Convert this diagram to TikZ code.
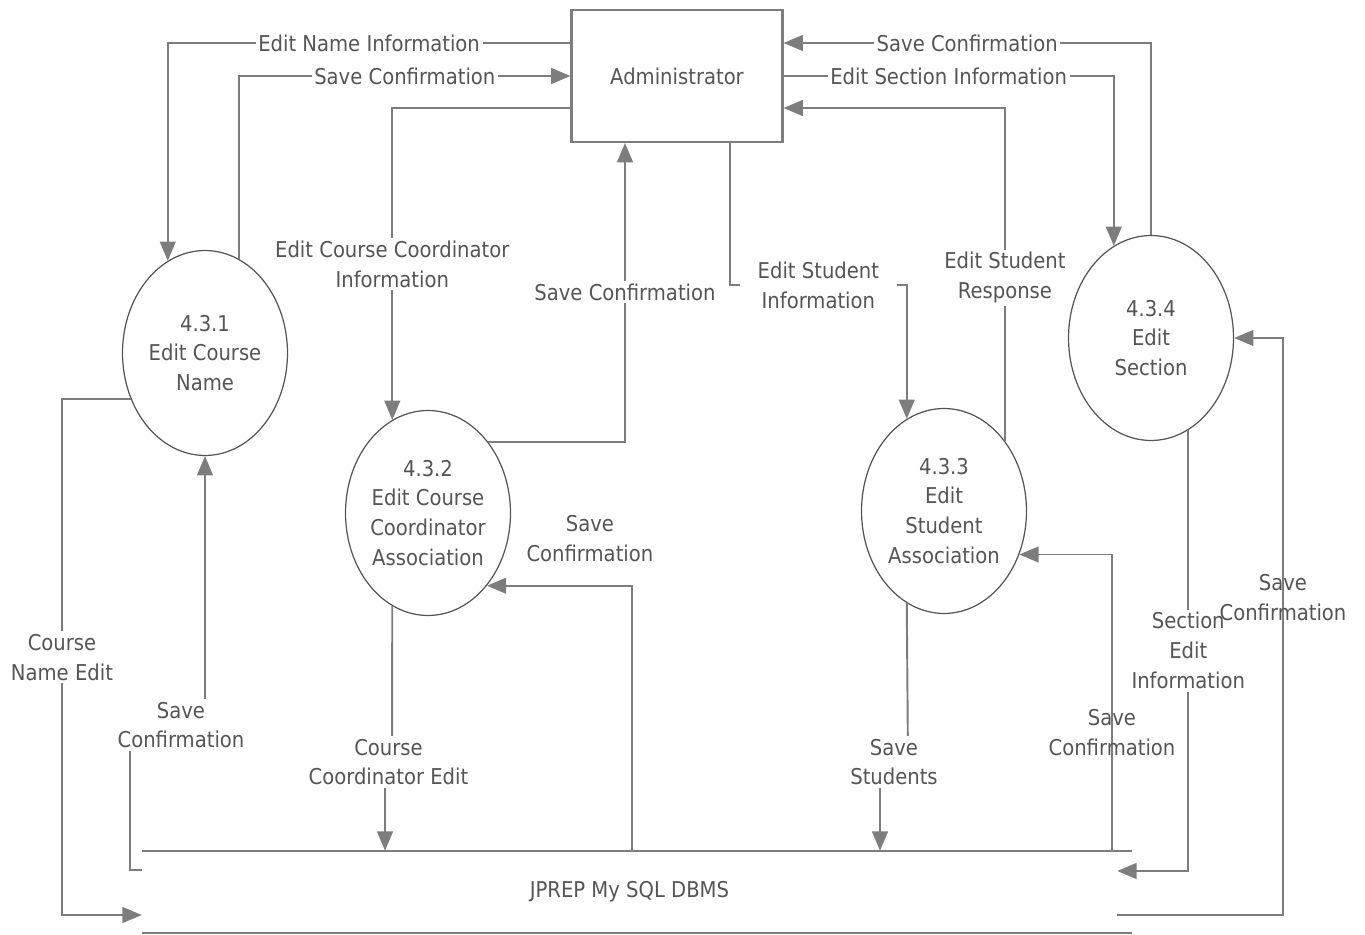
\documentclass[tikz,border=0pt]{standalone}
\usepackage{fontspec}
\setmainfont{DejaVu Sans Condensed}
\usetikzlibrary{shapes.geometric, arrows.meta}

\definecolor{inkgray}{RGB}{85,85,85}
\definecolor{linegray}{RGB}{125,125,125}

\begin{document}
\begin{tikzpicture}[x=0.02cm, y=-0.02cm,
  every node/.style={text=inkgray, font=\fontsize{12.4}{17}\selectfont},
  proc/.style={ellipse, draw=inkgray, line width=0.7pt, minimum width=3.3cm, minimum height=4.1cm, inner sep=0pt},
  ptext/.style={align=center},
  flow/.style={draw=linegray, line width=1.1pt, -{Triangle[length=11pt,width=9pt]}},
  lbl/.style={fill=white, align=center, inner sep=1.5pt},
  lbln/.style={align=center, inner sep=1pt}]
\useasboundingbox (0,0) rectangle (1365,935);

\node[draw=linegray, line width=1.2pt, minimum width=4.22cm, minimum height=2.64cm] (adm) at (677,76) {Administrator};

\node[proc] (p1) at (205,353) {};
\node[ptext] (t1) at (p1) {4.3.1\\Edit Course\\Name};
\node[proc] (p2) at (428,513) {};
\node[ptext] (t2) at (p2) {4.3.2\\Edit Course\\Coordinator\\Association};
\node[proc] (p3) at (944,511) {};
\node[ptext] (t3) at (p3) {4.3.3\\Edit\\Student\\Association};
\node[proc] (p4) at (1151,338) {};
\node[ptext] (t4) at (p4) {4.3.4\\Edit\\Section};

\node[minimum width=19.5cm, minimum height=1.64cm, inner sep=0pt] (db) at (629.5,892) {JPREP My SQL DBMS};
\draw[linegray, line width=1.1pt] (db.north west) -- ++(990,0);
\draw[linegray, line width=1.1pt] (db.south west) -- ++(990,0);

% administrator <-> processes
\draw[flow] (adm.west |- 0,43) -| node[lbl,pos=0.25] {Edit Name Information} (p1.112);
\draw[flow] (p1.70) |- node[lbl,pos=0.75] {Save Confirmation} (adm.west);
\draw[flow] (adm.west |- 0,108) -| node[lbl,pos=0.75] {Edit Course Coordinator\\Information} (p2.111);
\draw[flow] (p2.50) -| node[lbl,pos=0.75] {Save Confirmation} (adm.south -| 625,0);
\draw[flow] (adm.south -| 730,0) -- (730,285) -| node[lbl,pos=0.25,inner xsep=10pt] {Edit Student\\Information} (p3.112);
\draw[flow] (p3.49) |- node[lbl,pos=0.245] {Edit Student\\Response} (adm.east |- 0,108);
\draw[flow] (p4.north) |- node[lbl,pos=0.75] {Save Confirmation} (adm.east |- 0,43);
\draw[flow] (adm.east) -| node[lbl,pos=0.25] {Edit Section Information} (p4.112);

% processes <-> data store
\draw[flow] (p1.212) -| node[lbl,pos=0.75] {Course\\Name Edit} (62,915) -- (db.west |- 0,915);
\draw[flow] (db.west |- 0,870) -- (130,870) -- (130,725) -- node[lbl,pos=0.68] {Save\\Confirmation} (205,725) -- (p1.south);
\draw[flow] (p2.249) -- (392,762) -- node[lbl] {Course\\Coordinator Edit} (385,762) -- (db.north -| 385,0);
\draw[flow] (db.north -| 632,0) |- node[lbln,pos=0.645,above=0.42cm] {Save\\Confirmation} (p2.-51);
\draw[flow] (p3.248) -- (908,762) -- node[lbl] {Save\\Students} (880,762) -- (db.north -| 880,0);
\draw[flow] (db.north -| 1112,0) |- node[lbln,pos=0.2] {Save\\Confirmation} (p3.-30);
\draw[flow] (p4.-68) |- node[lbl,pos=0.25] {Section\\Edit\\Information} (db.east |- 0,871);
\draw[flow] (db.east |- 0,915) -| node[lbln,pos=0.775] {Save\\Confirmation} (p4.east -| 1283,0) -- (p4.east);
\end{tikzpicture}
\end{document}
